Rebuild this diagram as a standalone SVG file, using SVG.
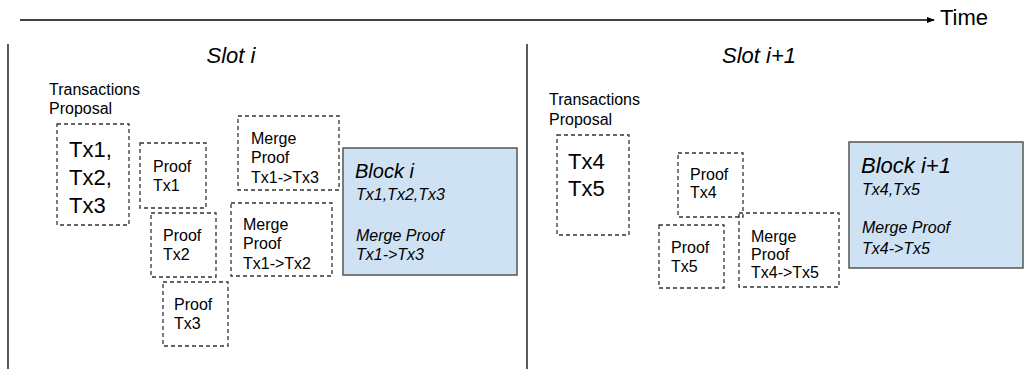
<svg xmlns="http://www.w3.org/2000/svg" width="1029" height="377" viewBox="0 0 1029 377">
<defs>
<marker id="arr" markerWidth="8" markerHeight="6" refX="7" refY="3" orient="auto" markerUnits="userSpaceOnUse">
<path d="M0,0 L8,3 L0,6 Z" fill="#000"/>
</marker>
<style>
text{font-family:"Liberation Sans",Arial,sans-serif;fill:#000}
.t16{font-size:16px}
.big{font-size:22px}
.it{font-style:italic}
.dash{fill:none;stroke:#333;stroke-width:1.3;stroke-dasharray:4 3}
.blk{fill:#cfe2f3;stroke:#555;stroke-width:1.5}
.ln{stroke:#000;stroke-width:1.3;fill:none}
</style>
</defs>
<rect width="1029" height="377" fill="#fff"/>
<g id="connectors">
<line class="ln" x1="20" y1="20" x2="934" y2="20" marker-end="url(#arr)"/>
<line class="ln" x1="8" y1="44" x2="8" y2="369"/>
<line class="ln" x1="527" y1="44" x2="527" y2="369"/>
</g>
<g id="time"><text class="big" x="940" y="25">Time</text></g>
<g id="slot-i"><text class="big it" x="231" y="63" text-anchor="middle">Slot i</text></g>
<g id="slot-i1"><text class="big it" x="759" y="63" text-anchor="middle">Slot i+1</text></g>
<g id="proposal-i"><text class="t16" x="49" y="95">Transactions</text><text class="t16" x="49" y="114">Proposal</text></g>
<g id="proposal-i1"><text class="t16" x="549" y="105">Transactions</text><text class="t16" x="549" y="125">Proposal</text></g>
<g id="tx123">
<rect class="dash" x="57" y="124" width="72" height="101"/>
<text class="big" x="69" y="157">Tx1,</text><text class="big" x="69" y="185">Tx2,</text><text class="big" x="69" y="213">Tx3</text>
</g>
<g id="proof-tx1"><rect class="dash" x="140" y="143" width="66" height="65"/><text class="t16" x="153" y="172">Proof</text><text class="t16" x="153" y="191">Tx1</text></g>
<g id="proof-tx2"><rect class="dash" x="151" y="213" width="65" height="64"/><text class="t16" x="163" y="241">Proof</text><text class="t16" x="163" y="260">Tx2</text></g>
<g id="proof-tx3"><rect class="dash" x="163" y="282" width="65" height="64"/><text class="t16" x="174" y="310">Proof</text><text class="t16" x="174" y="329">Tx3</text></g>
<g id="merge-13"><rect class="dash" x="238" y="116" width="101" height="74"/><text class="t16" x="251" y="144">Merge</text><text class="t16" x="251" y="163">Proof</text><text class="t16" x="251" y="183">Tx1-&gt;Tx3</text></g>
<g id="merge-12"><rect class="dash" x="231" y="203" width="101" height="73"/><text class="t16" x="243" y="230">Merge</text><text class="t16" x="243" y="249">Proof</text><text class="t16" x="243" y="269">Tx1-&gt;Tx2</text></g>
<g id="block-i"><rect class="blk" x="343" y="148" width="174" height="127"/>
<text class="it" style="font-size:20px" x="355" y="178">Block i</text>
<text class="t16 it" x="356" y="200">Tx1,Tx2,Tx3</text>
<text class="t16 it" x="356" y="241">Merge Proof</text>
<text class="t16 it" x="356" y="260">Tx1-&gt;Tx3</text></g>
<g id="tx45"><rect class="dash" x="557" y="135" width="72" height="100"/><text class="big" x="568" y="169">Tx4</text><text class="big" x="568" y="196">Tx5</text></g>
<g id="proof-tx4"><rect class="dash" x="678" y="153" width="65" height="64"/><text class="t16" x="690" y="180">Proof</text><text class="t16" x="690" y="198">Tx4</text></g>
<g id="proof-tx5"><rect class="dash" x="659" y="225" width="65" height="63"/><text class="t16" x="671" y="253">Proof</text><text class="t16" x="671" y="272">Tx5</text></g>
<g id="merge-45"><rect class="dash" x="739" y="213" width="100" height="74"/><text class="t16" x="751" y="242">Merge</text><text class="t16" x="751" y="260">Proof</text><text class="t16" x="751" y="278">Tx4-&gt;Tx5</text></g>
<g id="block-i1"><rect class="blk" x="849" y="142" width="174" height="126"/>
<text class="it" style="font-size:22px" x="861" y="173">Block i+1</text>
<text class="t16 it" x="862" y="195">Tx4,Tx5</text>
<text class="t16 it" x="862" y="233">Merge Proof</text>
<text class="t16 it" x="862" y="254">Tx4-&gt;Tx5</text></g>
</svg>
